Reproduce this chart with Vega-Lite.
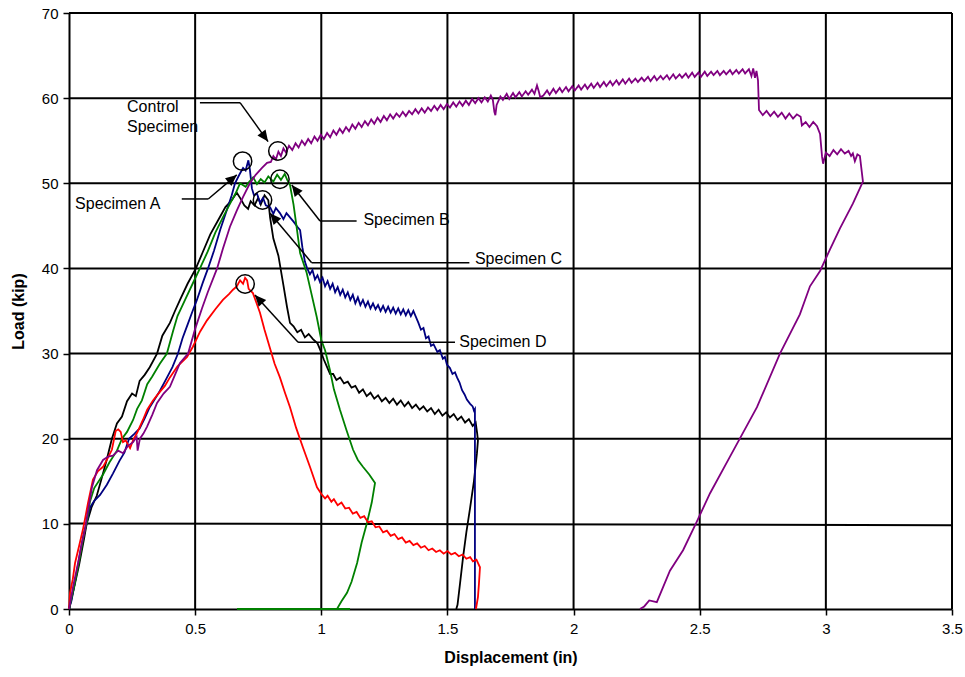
{
  "$schema": "https://vega.github.io/schema/vega-lite/v6.json",
  "width": 883,
  "height": 596,
  "autosize": {"type": "none"},
  "padding": {"left": 69, "top": 13, "right": 13, "bottom": 68},
  "background": "white",
  "config": {
    "view": {"stroke": null},
    "font": "Liberation Sans",
    "axis": {
      "labelFont": "Liberation Sans",
      "titleFont": "Liberation Sans",
      "labelColor": "#000000",
      "titleColor": "#000000",
      "domainColor": "#000000",
      "tickColor": "#000000",
      "domainWidth": 2,
      "tickWidth": 1.5,
      "tickSize": 6,
      "grid": false,
      "labelFontSize": 15,
      "titleFontSize": 16,
      "titleFontWeight": "bold"
    }
  },
  "layer": [
    {
      "data": {"values": [{"x": 0.5}, {"x": 1}, {"x": 1.5}, {"x": 2}, {"x": 2.5}, {"x": 3}, {"x": 3.5}]},
      "mark": {"type": "rule", "color": "#000000", "strokeWidth": 2},
      "encoding": {
        "x": {"field": "x", "type": "quantitative", "scale": {"domain": [0, 3.5], "nice": false, "zero": false},
              "title": "Displacement (in)",
              "axis": {"values": [0, 0.5, 1, 1.5, 2, 2.5, 3, 3.5], "format": "~g", "labelPadding": 6, "titlePadding": 13, "labelFlush": false}}
      }
    },
    {
      "data": {"values": [{"y": 20}, {"y": 30}, {"y": 40}, {"y": 50}, {"y": 60}, {"y": 70}]},
      "mark": {"type": "rule", "color": "#000000", "strokeWidth": 2},
      "encoding": {
        "y": {"field": "y", "type": "quantitative", "scale": {"domain": [0, 70], "nice": false},
              "title": "Load (kip)",
              "axis": {"values": [0, 10, 20, 30, 40, 50, 60, 70], "labelPadding": 5, "titlePadding": 15, "labelFlush": false}}
      }
    },
    {
      "data": {"values": [{"x": 0, "y": 10.05, "x2": 3.5, "y2": 9.85}]},
      "mark": {"type": "rule", "color": "#000000", "strokeWidth": 2},
      "encoding": {
        "x": {"field": "x", "type": "quantitative", "title": "Displacement (in)"},
        "y": {"field": "y", "type": "quantitative", "title": "Load (kip)"},
        "x2": {"field": "x2"},
        "y2": {"field": "y2"}
      }
    },
    {
      "data": {"values": [
        {"s": "Specimen C", "x": 0, "y": 0}, {"s": "Specimen C", "x": 0.02, "y": 2.5}, {"s": "Specimen C", "x": 0.04, "y": 5.2}, {"s": "Specimen C", "x": 0.06, "y": 8.3}, {"s": "Specimen C", "x": 0.07, "y": 10.0}, {"s": "Specimen C", "x": 0.09, "y": 12.0}, {"s": "Specimen C", "x": 0.11, "y": 13.3}, {"s": "Specimen C", "x": 0.13, "y": 15.4}, {"s": "Specimen C", "x": 0.15, "y": 17.6}, {"s": "Specimen C", "x": 0.17, "y": 20.0}, {"s": "Specimen C", "x": 0.19, "y": 21.8}, {"s": "Specimen C", "x": 0.21, "y": 22.6}, {"s": "Specimen C", "x": 0.23, "y": 24.4}, {"s": "Specimen C", "x": 0.25, "y": 25.3}, {"s": "Specimen C", "x": 0.265, "y": 25.0}, {"s": "Specimen C", "x": 0.28, "y": 26.8}, {"s": "Specimen C", "x": 0.30, "y": 27.5}, {"s": "Specimen C", "x": 0.32, "y": 28.4}, {"s": "Specimen C", "x": 0.349, "y": 30.0}, {"s": "Specimen C", "x": 0.37, "y": 32.1}, {"s": "Specimen C", "x": 0.40, "y": 33.6}, {"s": "Specimen C", "x": 0.42, "y": 35.0}, {"s": "Specimen C", "x": 0.44, "y": 36.3}, {"s": "Specimen C", "x": 0.47, "y": 38.2}, {"s": "Specimen C", "x": 0.503, "y": 40.0}, {"s": "Specimen C", "x": 0.53, "y": 41.9}, {"s": "Specimen C", "x": 0.56, "y": 44.0}, {"s": "Specimen C", "x": 0.59, "y": 45.6}, {"s": "Specimen C", "x": 0.62, "y": 47.2}, {"s": "Specimen C", "x": 0.645, "y": 48.0}, {"s": "Specimen C", "x": 0.665, "y": 48.9}, {"s": "Specimen C", "x": 0.68, "y": 48.2}, {"s": "Specimen C", "x": 0.695, "y": 47.4}, {"s": "Specimen C", "x": 0.71, "y": 47.0}, {"s": "Specimen C", "x": 0.72, "y": 47.9}, {"s": "Specimen C", "x": 0.735, "y": 47.4}, {"s": "Specimen C", "x": 0.75, "y": 48.3}, {"s": "Specimen C", "x": 0.76, "y": 47.5}, {"s": "Specimen C", "x": 0.775, "y": 48.6}, {"s": "Specimen C", "x": 0.79, "y": 48.0}, {"s": "Specimen C", "x": 0.797, "y": 46.0}, {"s": "Specimen C", "x": 0.81, "y": 43.5}, {"s": "Specimen C", "x": 0.83, "y": 41.5}, {"s": "Specimen C", "x": 0.85, "y": 38.0}, {"s": "Specimen C", "x": 0.864, "y": 35.5}, {"s": "Specimen C", "x": 0.876, "y": 33.6}, {"s": "Specimen C", "x": 0.89, "y": 33.2}, {"s": "Specimen C", "x": 0.905, "y": 32.5}, {"s": "Specimen C", "x": 0.92, "y": 32.8}, {"s": "Specimen C", "x": 0.935, "y": 31.9}, {"s": "Specimen C", "x": 0.95, "y": 32.3}, {"s": "Specimen C", "x": 0.967, "y": 31.7}, {"s": "Specimen C", "x": 0.985, "y": 31.2}, {"s": "Specimen C", "x": 0.995, "y": 30.5}, {"s": "Specimen C", "x": 1.01, "y": 29.3}, {"s": "Specimen C", "x": 1.023, "y": 28.4}, {"s": "Specimen C", "x": 1.035, "y": 27.6}, {"s": "Specimen C", "x": 1.047, "y": 27.6}, {"s": "Specimen C", "x": 1.06, "y": 26.9}, {"s": "Specimen C", "x": 1.075, "y": 27.2}, {"s": "Specimen C", "x": 1.09, "y": 26.5}, {"s": "Specimen C", "x": 1.105, "y": 26.7}, {"s": "Specimen C", "x": 1.12, "y": 26.0}, {"s": "Specimen C", "x": 1.135, "y": 26.2}, {"s": "Specimen C", "x": 1.15, "y": 25.4}, {"s": "Specimen C", "x": 1.165, "y": 25.8}, {"s": "Specimen C", "x": 1.18, "y": 25.0}, {"s": "Specimen C", "x": 1.195, "y": 25.4}, {"s": "Specimen C", "x": 1.21, "y": 24.7}, {"s": "Specimen C", "x": 1.225, "y": 25.1}, {"s": "Specimen C", "x": 1.24, "y": 24.4}, {"s": "Specimen C", "x": 1.255, "y": 24.8}, {"s": "Specimen C", "x": 1.27, "y": 24.2}, {"s": "Specimen C", "x": 1.285, "y": 24.7}, {"s": "Specimen C", "x": 1.30, "y": 24.0}, {"s": "Specimen C", "x": 1.315, "y": 24.5}, {"s": "Specimen C", "x": 1.33, "y": 23.8}, {"s": "Specimen C", "x": 1.345, "y": 24.3}, {"s": "Specimen C", "x": 1.36, "y": 23.6}, {"s": "Specimen C", "x": 1.375, "y": 24.0}, {"s": "Specimen C", "x": 1.39, "y": 23.4}, {"s": "Specimen C", "x": 1.405, "y": 23.8}, {"s": "Specimen C", "x": 1.42, "y": 23.2}, {"s": "Specimen C", "x": 1.435, "y": 23.6}, {"s": "Specimen C", "x": 1.45, "y": 22.9}, {"s": "Specimen C", "x": 1.465, "y": 23.4}, {"s": "Specimen C", "x": 1.48, "y": 22.7}, {"s": "Specimen C", "x": 1.495, "y": 23.1}, {"s": "Specimen C", "x": 1.51, "y": 22.5}, {"s": "Specimen C", "x": 1.525, "y": 22.9}, {"s": "Specimen C", "x": 1.54, "y": 22.2}, {"s": "Specimen C", "x": 1.555, "y": 22.6}, {"s": "Specimen C", "x": 1.57, "y": 21.9}, {"s": "Specimen C", "x": 1.585, "y": 22.3}, {"s": "Specimen C", "x": 1.60, "y": 21.5}, {"s": "Specimen C", "x": 1.612, "y": 21.9}, {"s": "Specimen C", "x": 1.618, "y": 20.6}, {"s": "Specimen C", "x": 1.621, "y": 19.8}, {"s": "Specimen C", "x": 1.617, "y": 18.3}, {"s": "Specimen C", "x": 1.605, "y": 15.0}, {"s": "Specimen C", "x": 1.59, "y": 11.9}, {"s": "Specimen C", "x": 1.575, "y": 9.0}, {"s": "Specimen C", "x": 1.562, "y": 6.1}, {"s": "Specimen C", "x": 1.55, "y": 3.0}, {"s": "Specimen C", "x": 1.54, "y": 0.5}, {"s": "Specimen C", "x": 1.535, "y": 0},

        {"s": "Specimen A", "x": 0, "y": 0}, {"s": "Specimen A", "x": 0.01, "y": 1.0}, {"s": "Specimen A", "x": 0.02, "y": 2.6}, {"s": "Specimen A", "x": 0.03, "y": 4.2}, {"s": "Specimen A", "x": 0.044, "y": 6.6}, {"s": "Specimen A", "x": 0.06, "y": 9.0}, {"s": "Specimen A", "x": 0.07, "y": 10.0}, {"s": "Specimen A", "x": 0.083, "y": 11.9}, {"s": "Specimen A", "x": 0.1, "y": 12.7}, {"s": "Specimen A", "x": 0.123, "y": 13.4}, {"s": "Specimen A", "x": 0.15, "y": 14.6}, {"s": "Specimen A", "x": 0.174, "y": 15.9}, {"s": "Specimen A", "x": 0.2, "y": 17.4}, {"s": "Specimen A", "x": 0.22, "y": 18.4}, {"s": "Specimen A", "x": 0.238, "y": 20.0}, {"s": "Specimen A", "x": 0.26, "y": 20.6}, {"s": "Specimen A", "x": 0.28, "y": 21.2}, {"s": "Specimen A", "x": 0.30, "y": 22.4}, {"s": "Specimen A", "x": 0.32, "y": 23.7}, {"s": "Specimen A", "x": 0.341, "y": 24.7}, {"s": "Specimen A", "x": 0.36, "y": 25.6}, {"s": "Specimen A", "x": 0.385, "y": 27.0}, {"s": "Specimen A", "x": 0.41, "y": 28.4}, {"s": "Specimen A", "x": 0.432, "y": 30.0}, {"s": "Specimen A", "x": 0.45, "y": 31.8}, {"s": "Specimen A", "x": 0.47, "y": 33.4}, {"s": "Specimen A", "x": 0.49, "y": 35.0}, {"s": "Specimen A", "x": 0.507, "y": 36.3}, {"s": "Specimen A", "x": 0.53, "y": 38.3}, {"s": "Specimen A", "x": 0.551, "y": 40.0}, {"s": "Specimen A", "x": 0.575, "y": 42.1}, {"s": "Specimen A", "x": 0.60, "y": 44.6}, {"s": "Specimen A", "x": 0.625, "y": 46.8}, {"s": "Specimen A", "x": 0.645, "y": 48.6}, {"s": "Specimen A", "x": 0.658, "y": 50.0}, {"s": "Specimen A", "x": 0.675, "y": 51.0}, {"s": "Specimen A", "x": 0.69, "y": 51.8}, {"s": "Specimen A", "x": 0.70, "y": 51.5}, {"s": "Specimen A", "x": 0.711, "y": 52.7}, {"s": "Specimen A", "x": 0.717, "y": 51.6}, {"s": "Specimen A", "x": 0.725, "y": 49.4}, {"s": "Specimen A", "x": 0.733, "y": 48.6}, {"s": "Specimen A", "x": 0.745, "y": 48.8}, {"s": "Specimen A", "x": 0.757, "y": 47.7}, {"s": "Specimen A", "x": 0.769, "y": 48.3}, {"s": "Specimen A", "x": 0.78, "y": 47.4}, {"s": "Specimen A", "x": 0.797, "y": 47.2}, {"s": "Specimen A", "x": 0.81, "y": 46.4}, {"s": "Specimen A", "x": 0.82, "y": 47.1}, {"s": "Specimen A", "x": 0.836, "y": 46.5}, {"s": "Specimen A", "x": 0.85, "y": 45.8}, {"s": "Specimen A", "x": 0.862, "y": 46.5}, {"s": "Specimen A", "x": 0.876, "y": 46.0}, {"s": "Specimen A", "x": 0.89, "y": 45.5}, {"s": "Specimen A", "x": 0.905, "y": 44.9}, {"s": "Specimen A", "x": 0.916, "y": 44.5}, {"s": "Specimen A", "x": 0.925, "y": 42.5}, {"s": "Specimen A", "x": 0.935, "y": 40.8}, {"s": "Specimen A", "x": 0.943, "y": 40.1}, {"s": "Specimen A", "x": 0.955, "y": 39.3}, {"s": "Specimen A", "x": 0.965, "y": 39.8}, {"s": "Specimen A", "x": 0.975, "y": 38.7}, {"s": "Specimen A", "x": 0.985, "y": 39.2}, {"s": "Specimen A", "x": 0.995, "y": 38.4}, {"s": "Specimen A", "x": 1.005, "y": 38.9}, {"s": "Specimen A", "x": 1.015, "y": 37.9}, {"s": "Specimen A", "x": 1.025, "y": 38.5}, {"s": "Specimen A", "x": 1.035, "y": 37.6}, {"s": "Specimen A", "x": 1.045, "y": 38.2}, {"s": "Specimen A", "x": 1.055, "y": 37.2}, {"s": "Specimen A", "x": 1.065, "y": 37.8}, {"s": "Specimen A", "x": 1.075, "y": 36.9}, {"s": "Specimen A", "x": 1.085, "y": 37.5}, {"s": "Specimen A", "x": 1.095, "y": 36.6}, {"s": "Specimen A", "x": 1.105, "y": 37.2}, {"s": "Specimen A", "x": 1.115, "y": 36.3}, {"s": "Specimen A", "x": 1.125, "y": 36.9}, {"s": "Specimen A", "x": 1.135, "y": 35.9}, {"s": "Specimen A", "x": 1.145, "y": 36.6}, {"s": "Specimen A", "x": 1.155, "y": 35.7}, {"s": "Specimen A", "x": 1.165, "y": 36.3}, {"s": "Specimen A", "x": 1.175, "y": 35.5}, {"s": "Specimen A", "x": 1.185, "y": 36.1}, {"s": "Specimen A", "x": 1.195, "y": 35.3}, {"s": "Specimen A", "x": 1.205, "y": 35.9}, {"s": "Specimen A", "x": 1.215, "y": 35.2}, {"s": "Specimen A", "x": 1.225, "y": 35.7}, {"s": "Specimen A", "x": 1.235, "y": 35.0}, {"s": "Specimen A", "x": 1.245, "y": 35.6}, {"s": "Specimen A", "x": 1.255, "y": 34.9}, {"s": "Specimen A", "x": 1.265, "y": 35.5}, {"s": "Specimen A", "x": 1.275, "y": 34.8}, {"s": "Specimen A", "x": 1.285, "y": 35.4}, {"s": "Specimen A", "x": 1.295, "y": 34.7}, {"s": "Specimen A", "x": 1.305, "y": 35.3}, {"s": "Specimen A", "x": 1.315, "y": 34.6}, {"s": "Specimen A", "x": 1.325, "y": 35.2}, {"s": "Specimen A", "x": 1.335, "y": 34.5}, {"s": "Specimen A", "x": 1.345, "y": 35.1}, {"s": "Specimen A", "x": 1.355, "y": 34.4}, {"s": "Specimen A", "x": 1.365, "y": 35.0}, {"s": "Specimen A", "x": 1.375, "y": 34.3}, {"s": "Specimen A", "x": 1.385, "y": 33.6}, {"s": "Specimen A", "x": 1.395, "y": 32.8}, {"s": "Specimen A", "x": 1.405, "y": 33.0}, {"s": "Specimen A", "x": 1.415, "y": 31.8}, {"s": "Specimen A", "x": 1.425, "y": 32.0}, {"s": "Specimen A", "x": 1.435, "y": 30.9}, {"s": "Specimen A", "x": 1.445, "y": 31.1}, {"s": "Specimen A", "x": 1.46, "y": 30.2}, {"s": "Specimen A", "x": 1.47, "y": 30.4}, {"s": "Specimen A", "x": 1.482, "y": 29.4}, {"s": "Specimen A", "x": 1.49, "y": 29.6}, {"s": "Specimen A", "x": 1.498, "y": 28.7}, {"s": "Specimen A", "x": 1.51, "y": 28.3}, {"s": "Specimen A", "x": 1.52, "y": 27.6}, {"s": "Specimen A", "x": 1.53, "y": 27.8}, {"s": "Specimen A", "x": 1.538, "y": 27.2}, {"s": "Specimen A", "x": 1.548, "y": 26.6}, {"s": "Specimen A", "x": 1.558, "y": 25.7}, {"s": "Specimen A", "x": 1.568, "y": 25.2}, {"s": "Specimen A", "x": 1.577, "y": 24.6}, {"s": "Specimen A", "x": 1.59, "y": 24.1}, {"s": "Specimen A", "x": 1.60, "y": 23.8}, {"s": "Specimen A", "x": 1.605, "y": 23.3}, {"s": "Specimen A", "x": 1.609, "y": 23.5}, {"s": "Specimen A", "x": 1.609, "y": 0},

        {"s": "Specimen B", "x": 0, "y": 0}, {"s": "Specimen B", "x": 0.02, "y": 2.6}, {"s": "Specimen B", "x": 0.04, "y": 5.6}, {"s": "Specimen B", "x": 0.06, "y": 8.9}, {"s": "Specimen B", "x": 0.07, "y": 10.1}, {"s": "Specimen B", "x": 0.083, "y": 12.6}, {"s": "Specimen B", "x": 0.10, "y": 14.2}, {"s": "Specimen B", "x": 0.135, "y": 15.8}, {"s": "Specimen B", "x": 0.16, "y": 17.2}, {"s": "Specimen B", "x": 0.19, "y": 18.6}, {"s": "Specimen B", "x": 0.21, "y": 20.0}, {"s": "Specimen B", "x": 0.23, "y": 20.8}, {"s": "Specimen B", "x": 0.254, "y": 22.2}, {"s": "Specimen B", "x": 0.27, "y": 23.5}, {"s": "Specimen B", "x": 0.289, "y": 24.5}, {"s": "Specimen B", "x": 0.31, "y": 26.4}, {"s": "Specimen B", "x": 0.33, "y": 27.3}, {"s": "Specimen B", "x": 0.36, "y": 28.8}, {"s": "Specimen B", "x": 0.388, "y": 30.0}, {"s": "Specimen B", "x": 0.412, "y": 32.6}, {"s": "Specimen B", "x": 0.43, "y": 34.4}, {"s": "Specimen B", "x": 0.46, "y": 36.3}, {"s": "Specimen B", "x": 0.49, "y": 38.2}, {"s": "Specimen B", "x": 0.519, "y": 40.0}, {"s": "Specimen B", "x": 0.55, "y": 42.0}, {"s": "Specimen B", "x": 0.58, "y": 44.2}, {"s": "Specimen B", "x": 0.61, "y": 46.0}, {"s": "Specimen B", "x": 0.64, "y": 47.7}, {"s": "Specimen B", "x": 0.66, "y": 48.8}, {"s": "Specimen B", "x": 0.678, "y": 50.0}, {"s": "Specimen B", "x": 0.70, "y": 49.6}, {"s": "Specimen B", "x": 0.715, "y": 50.2}, {"s": "Specimen B", "x": 0.73, "y": 50.7}, {"s": "Specimen B", "x": 0.745, "y": 49.9}, {"s": "Specimen B", "x": 0.76, "y": 50.5}, {"s": "Specimen B", "x": 0.775, "y": 50.1}, {"s": "Specimen B", "x": 0.79, "y": 50.8}, {"s": "Specimen B", "x": 0.81, "y": 50.2}, {"s": "Specimen B", "x": 0.825, "y": 51.0}, {"s": "Specimen B", "x": 0.84, "y": 50.4}, {"s": "Specimen B", "x": 0.855, "y": 51.1}, {"s": "Specimen B", "x": 0.865, "y": 50.4}, {"s": "Specimen B", "x": 0.876, "y": 49.8}, {"s": "Specimen B", "x": 0.89, "y": 47.5}, {"s": "Specimen B", "x": 0.902, "y": 44.9}, {"s": "Specimen B", "x": 0.916, "y": 41.8}, {"s": "Specimen B", "x": 0.942, "y": 39.5}, {"s": "Specimen B", "x": 0.955, "y": 37.8}, {"s": "Specimen B", "x": 0.982, "y": 34.3}, {"s": "Specimen B", "x": 1.0, "y": 31.6}, {"s": "Specimen B", "x": 1.015, "y": 30.4}, {"s": "Specimen B", "x": 1.034, "y": 28.1}, {"s": "Specimen B", "x": 1.05, "y": 25.8}, {"s": "Specimen B", "x": 1.074, "y": 23.4}, {"s": "Specimen B", "x": 1.10, "y": 21.0}, {"s": "Specimen B", "x": 1.126, "y": 18.7}, {"s": "Specimen B", "x": 1.145, "y": 17.5}, {"s": "Specimen B", "x": 1.165, "y": 16.7}, {"s": "Specimen B", "x": 1.19, "y": 15.8}, {"s": "Specimen B", "x": 1.213, "y": 14.8}, {"s": "Specimen B", "x": 1.20, "y": 12.5}, {"s": "Specimen B", "x": 1.181, "y": 10.1}, {"s": "Specimen B", "x": 1.16, "y": 7.8}, {"s": "Specimen B", "x": 1.142, "y": 5.4}, {"s": "Specimen B", "x": 1.12, "y": 3.2}, {"s": "Specimen B", "x": 1.102, "y": 1.9}, {"s": "Specimen B", "x": 1.08, "y": 0.9}, {"s": "Specimen B", "x": 1.062, "y": 0}, {"s": "Specimen B", "x": 1.114, "y": 0}, {"s": "Specimen B", "x": 0.666, "y": 0},

        {"s": "Specimen D", "x": 0, "y": 0}, {"s": "Specimen D", "x": 0.004, "y": 1.9}, {"s": "Specimen D", "x": 0.015, "y": 3.5}, {"s": "Specimen D", "x": 0.024, "y": 5.4}, {"s": "Specimen D", "x": 0.04, "y": 7.4}, {"s": "Specimen D", "x": 0.055, "y": 9.3}, {"s": "Specimen D", "x": 0.065, "y": 10.8}, {"s": "Specimen D", "x": 0.075, "y": 12.4}, {"s": "Specimen D", "x": 0.095, "y": 15.2}, {"s": "Specimen D", "x": 0.115, "y": 16.2}, {"s": "Specimen D", "x": 0.135, "y": 16.7}, {"s": "Specimen D", "x": 0.155, "y": 17.8}, {"s": "Specimen D", "x": 0.17, "y": 18.7}, {"s": "Specimen D", "x": 0.185, "y": 20.9}, {"s": "Specimen D", "x": 0.195, "y": 21.1}, {"s": "Specimen D", "x": 0.205, "y": 20.8}, {"s": "Specimen D", "x": 0.214, "y": 19.6}, {"s": "Specimen D", "x": 0.225, "y": 19.8}, {"s": "Specimen D", "x": 0.234, "y": 19.3}, {"s": "Specimen D", "x": 0.242, "y": 18.9}, {"s": "Specimen D", "x": 0.255, "y": 19.9}, {"s": "Specimen D", "x": 0.27, "y": 20.7}, {"s": "Specimen D", "x": 0.293, "y": 22.2}, {"s": "Specimen D", "x": 0.31, "y": 23.4}, {"s": "Specimen D", "x": 0.333, "y": 24.5}, {"s": "Specimen D", "x": 0.36, "y": 25.5}, {"s": "Specimen D", "x": 0.38, "y": 26.2}, {"s": "Specimen D", "x": 0.40, "y": 27.2}, {"s": "Specimen D", "x": 0.43, "y": 28.5}, {"s": "Specimen D", "x": 0.468, "y": 29.6}, {"s": "Specimen D", "x": 0.491, "y": 30.8}, {"s": "Specimen D", "x": 0.52, "y": 32.6}, {"s": "Specimen D", "x": 0.547, "y": 33.9}, {"s": "Specimen D", "x": 0.58, "y": 35.2}, {"s": "Specimen D", "x": 0.61, "y": 36.3}, {"s": "Specimen D", "x": 0.635, "y": 37.0}, {"s": "Specimen D", "x": 0.65, "y": 37.5}, {"s": "Specimen D", "x": 0.665, "y": 37.9}, {"s": "Specimen D", "x": 0.678, "y": 38.6}, {"s": "Specimen D", "x": 0.69, "y": 38.2}, {"s": "Specimen D", "x": 0.698, "y": 38.9}, {"s": "Specimen D", "x": 0.706, "y": 38.6}, {"s": "Specimen D", "x": 0.712, "y": 37.6}, {"s": "Specimen D", "x": 0.729, "y": 37.1}, {"s": "Specimen D", "x": 0.74, "y": 36.2}, {"s": "Specimen D", "x": 0.757, "y": 34.8}, {"s": "Specimen D", "x": 0.775, "y": 32.8}, {"s": "Specimen D", "x": 0.797, "y": 30.6}, {"s": "Specimen D", "x": 0.815, "y": 28.8}, {"s": "Specimen D", "x": 0.836, "y": 27.2}, {"s": "Specimen D", "x": 0.856, "y": 25.4}, {"s": "Specimen D", "x": 0.876, "y": 23.7}, {"s": "Specimen D", "x": 0.90, "y": 21.3}, {"s": "Specimen D", "x": 0.927, "y": 19.0}, {"s": "Specimen D", "x": 0.955, "y": 16.7}, {"s": "Specimen D", "x": 0.983, "y": 14.3}, {"s": "Specimen D", "x": 1.003, "y": 13.4}, {"s": "Specimen D", "x": 1.015, "y": 13.0}, {"s": "Specimen D", "x": 1.025, "y": 13.3}, {"s": "Specimen D", "x": 1.04, "y": 12.6}, {"s": "Specimen D", "x": 1.05, "y": 12.9}, {"s": "Specimen D", "x": 1.065, "y": 12.2}, {"s": "Specimen D", "x": 1.08, "y": 12.5}, {"s": "Specimen D", "x": 1.095, "y": 11.8}, {"s": "Specimen D", "x": 1.11, "y": 11.9}, {"s": "Specimen D", "x": 1.125, "y": 11.2}, {"s": "Specimen D", "x": 1.14, "y": 11.4}, {"s": "Specimen D", "x": 1.155, "y": 10.7}, {"s": "Specimen D", "x": 1.17, "y": 10.9}, {"s": "Specimen D", "x": 1.185, "y": 10.2}, {"s": "Specimen D", "x": 1.20, "y": 10.3}, {"s": "Specimen D", "x": 1.215, "y": 9.6}, {"s": "Specimen D", "x": 1.23, "y": 9.7}, {"s": "Specimen D", "x": 1.245, "y": 9.0}, {"s": "Specimen D", "x": 1.26, "y": 9.2}, {"s": "Specimen D", "x": 1.275, "y": 8.6}, {"s": "Specimen D", "x": 1.29, "y": 8.8}, {"s": "Specimen D", "x": 1.305, "y": 8.2}, {"s": "Specimen D", "x": 1.32, "y": 8.4}, {"s": "Specimen D", "x": 1.335, "y": 7.8}, {"s": "Specimen D", "x": 1.35, "y": 8.0}, {"s": "Specimen D", "x": 1.365, "y": 7.5}, {"s": "Specimen D", "x": 1.38, "y": 7.7}, {"s": "Specimen D", "x": 1.395, "y": 7.2}, {"s": "Specimen D", "x": 1.41, "y": 7.4}, {"s": "Specimen D", "x": 1.425, "y": 6.9}, {"s": "Specimen D", "x": 1.44, "y": 7.1}, {"s": "Specimen D", "x": 1.455, "y": 6.7}, {"s": "Specimen D", "x": 1.47, "y": 6.9}, {"s": "Specimen D", "x": 1.485, "y": 6.5}, {"s": "Specimen D", "x": 1.50, "y": 6.8}, {"s": "Specimen D", "x": 1.515, "y": 6.4}, {"s": "Specimen D", "x": 1.53, "y": 6.6}, {"s": "Specimen D", "x": 1.545, "y": 6.2}, {"s": "Specimen D", "x": 1.56, "y": 6.4}, {"s": "Specimen D", "x": 1.575, "y": 5.9}, {"s": "Specimen D", "x": 1.59, "y": 6.1}, {"s": "Specimen D", "x": 1.601, "y": 5.6}, {"s": "Specimen D", "x": 1.615, "y": 5.8}, {"s": "Specimen D", "x": 1.629, "y": 4.9}, {"s": "Specimen D", "x": 1.625, "y": 3.0}, {"s": "Specimen D", "x": 1.621, "y": 1.4}, {"s": "Specimen D", "x": 1.613, "y": 0},

        {"s": "Control Specimen", "x": 0, "y": 0}, {"s": "Control Specimen", "x": 0.016, "y": 2.6}, {"s": "Control Specimen", "x": 0.036, "y": 5.4}, {"s": "Control Specimen", "x": 0.05, "y": 7.6}, {"s": "Control Specimen", "x": 0.063, "y": 9.3}, {"s": "Control Specimen", "x": 0.075, "y": 11.5}, {"s": "Control Specimen", "x": 0.091, "y": 14.3}, {"s": "Control Specimen", "x": 0.111, "y": 16.3}, {"s": "Control Specimen", "x": 0.135, "y": 17.5}, {"s": "Control Specimen", "x": 0.155, "y": 17.9}, {"s": "Control Specimen", "x": 0.174, "y": 18.0}, {"s": "Control Specimen", "x": 0.195, "y": 18.6}, {"s": "Control Specimen", "x": 0.214, "y": 18.3}, {"s": "Control Specimen", "x": 0.235, "y": 19.2}, {"s": "Control Specimen", "x": 0.254, "y": 19.6}, {"s": "Control Specimen", "x": 0.268, "y": 20.2}, {"s": "Control Specimen", "x": 0.272, "y": 18.6}, {"s": "Control Specimen", "x": 0.281, "y": 20.0}, {"s": "Control Specimen", "x": 0.295, "y": 20.6}, {"s": "Control Specimen", "x": 0.309, "y": 21.4}, {"s": "Control Specimen", "x": 0.33, "y": 22.8}, {"s": "Control Specimen", "x": 0.349, "y": 24.2}, {"s": "Control Specimen", "x": 0.375, "y": 25.3}, {"s": "Control Specimen", "x": 0.40, "y": 26.1}, {"s": "Control Specimen", "x": 0.42, "y": 27.5}, {"s": "Control Specimen", "x": 0.44, "y": 28.9}, {"s": "Control Specimen", "x": 0.472, "y": 30.0}, {"s": "Control Specimen", "x": 0.50, "y": 32.9}, {"s": "Control Specimen", "x": 0.527, "y": 35.3}, {"s": "Control Specimen", "x": 0.55, "y": 37.2}, {"s": "Control Specimen", "x": 0.587, "y": 40.0}, {"s": "Control Specimen", "x": 0.61, "y": 42.3}, {"s": "Control Specimen", "x": 0.638, "y": 44.9}, {"s": "Control Specimen", "x": 0.665, "y": 46.8}, {"s": "Control Specimen", "x": 0.69, "y": 48.4}, {"s": "Control Specimen", "x": 0.717, "y": 50.0}, {"s": "Control Specimen", "x": 0.74, "y": 51.0}, {"s": "Control Specimen", "x": 0.765, "y": 51.8}, {"s": "Control Specimen", "x": 0.785, "y": 52.4}, {"s": "Control Specimen", "x": 0.80, "y": 52.5}, {"s": "Control Specimen", "x": 0.81, "y": 53.2}, {"s": "Control Specimen", "x": 0.82, "y": 52.8}, {"s": "Control Specimen", "x": 0.83, "y": 53.7}, {"s": "Control Specimen", "x": 0.84, "y": 53.2}, {"s": "Control Specimen", "x": 0.85, "y": 54.1}, {"s": "Control Specimen", "x": 0.86, "y": 53.6}, {"s": "Control Specimen", "x": 0.872, "y": 54.4}, {"s": "Control Specimen", "x": 0.885, "y": 53.9}, {"s": "Control Specimen", "x": 0.898, "y": 54.7}, {"s": "Control Specimen", "x": 0.91, "y": 54.2}, {"s": "Control Specimen", "x": 0.923, "y": 55.0}, {"s": "Control Specimen", "x": 0.935, "y": 54.5}, {"s": "Control Specimen", "x": 0.948, "y": 55.2}, {"s": "Control Specimen", "x": 0.96, "y": 54.7}, {"s": "Control Specimen", "x": 0.973, "y": 55.5}, {"s": "Control Specimen", "x": 0.985, "y": 55.0}, {"s": "Control Specimen", "x": 0.998, "y": 55.7}, {"s": "Control Specimen", "x": 1.01, "y": 55.2}, {"s": "Control Specimen", "x": 1.023, "y": 55.9}, {"s": "Control Specimen", "x": 1.035, "y": 55.4}, {"s": "Control Specimen", "x": 1.048, "y": 56.2}, {"s": "Control Specimen", "x": 1.06, "y": 55.7}, {"s": "Control Specimen", "x": 1.073, "y": 56.4}, {"s": "Control Specimen", "x": 1.085, "y": 55.9}, {"s": "Control Specimen", "x": 1.098, "y": 56.6}, {"s": "Control Specimen", "x": 1.11, "y": 56.1}, {"s": "Control Specimen", "x": 1.123, "y": 56.9}, {"s": "Control Specimen", "x": 1.135, "y": 56.4}, {"s": "Control Specimen", "x": 1.148, "y": 57.1}, {"s": "Control Specimen", "x": 1.16, "y": 56.6}, {"s": "Control Specimen", "x": 1.173, "y": 57.3}, {"s": "Control Specimen", "x": 1.185, "y": 56.8}, {"s": "Control Specimen", "x": 1.198, "y": 57.5}, {"s": "Control Specimen", "x": 1.21, "y": 57.0}, {"s": "Control Specimen", "x": 1.223, "y": 57.7}, {"s": "Control Specimen", "x": 1.235, "y": 57.2}, {"s": "Control Specimen", "x": 1.248, "y": 57.9}, {"s": "Control Specimen", "x": 1.26, "y": 57.4}, {"s": "Control Specimen", "x": 1.273, "y": 58.1}, {"s": "Control Specimen", "x": 1.285, "y": 57.6}, {"s": "Control Specimen", "x": 1.298, "y": 58.2}, {"s": "Control Specimen", "x": 1.31, "y": 57.8}, {"s": "Control Specimen", "x": 1.323, "y": 58.4}, {"s": "Control Specimen", "x": 1.335, "y": 57.9}, {"s": "Control Specimen", "x": 1.348, "y": 58.5}, {"s": "Control Specimen", "x": 1.36, "y": 58.1}, {"s": "Control Specimen", "x": 1.373, "y": 58.7}, {"s": "Control Specimen", "x": 1.385, "y": 58.2}, {"s": "Control Specimen", "x": 1.398, "y": 58.8}, {"s": "Control Specimen", "x": 1.41, "y": 58.3}, {"s": "Control Specimen", "x": 1.423, "y": 58.9}, {"s": "Control Specimen", "x": 1.435, "y": 58.5}, {"s": "Control Specimen", "x": 1.448, "y": 59.1}, {"s": "Control Specimen", "x": 1.46, "y": 58.6}, {"s": "Control Specimen", "x": 1.473, "y": 59.2}, {"s": "Control Specimen", "x": 1.485, "y": 58.7}, {"s": "Control Specimen", "x": 1.498, "y": 59.3}, {"s": "Control Specimen", "x": 1.51, "y": 58.9}, {"s": "Control Specimen", "x": 1.523, "y": 59.5}, {"s": "Control Specimen", "x": 1.535, "y": 59.0}, {"s": "Control Specimen", "x": 1.548, "y": 59.6}, {"s": "Control Specimen", "x": 1.56, "y": 59.1}, {"s": "Control Specimen", "x": 1.573, "y": 59.7}, {"s": "Control Specimen", "x": 1.585, "y": 59.2}, {"s": "Control Specimen", "x": 1.598, "y": 59.9}, {"s": "Control Specimen", "x": 1.61, "y": 59.4}, {"s": "Control Specimen", "x": 1.623, "y": 60.0}, {"s": "Control Specimen", "x": 1.635, "y": 59.5}, {"s": "Control Specimen", "x": 1.648, "y": 60.1}, {"s": "Control Specimen", "x": 1.66, "y": 59.6}, {"s": "Control Specimen", "x": 1.672, "y": 60.3}, {"s": "Control Specimen", "x": 1.68, "y": 59.8}, {"s": "Control Specimen", "x": 1.686, "y": 58.4}, {"s": "Control Specimen", "x": 1.69, "y": 58.0}, {"s": "Control Specimen", "x": 1.695, "y": 59.2}, {"s": "Control Specimen", "x": 1.71, "y": 60.2}, {"s": "Control Specimen", "x": 1.72, "y": 59.8}, {"s": "Control Specimen", "x": 1.735, "y": 60.5}, {"s": "Control Specimen", "x": 1.745, "y": 59.9}, {"s": "Control Specimen", "x": 1.76, "y": 60.6}, {"s": "Control Specimen", "x": 1.77, "y": 60.1}, {"s": "Control Specimen", "x": 1.785, "y": 60.7}, {"s": "Control Specimen", "x": 1.795, "y": 60.2}, {"s": "Control Specimen", "x": 1.81, "y": 60.8}, {"s": "Control Specimen", "x": 1.82, "y": 60.4}, {"s": "Control Specimen", "x": 1.835, "y": 61.0}, {"s": "Control Specimen", "x": 1.845, "y": 60.5}, {"s": "Control Specimen", "x": 1.855, "y": 61.5}, {"s": "Control Specimen", "x": 1.862, "y": 60.8}, {"s": "Control Specimen", "x": 1.868, "y": 60.1}, {"s": "Control Specimen", "x": 1.88, "y": 60.3}, {"s": "Control Specimen", "x": 1.895, "y": 60.9}, {"s": "Control Specimen", "x": 1.905, "y": 60.4}, {"s": "Control Specimen", "x": 1.92, "y": 61.1}, {"s": "Control Specimen", "x": 1.93, "y": 60.6}, {"s": "Control Specimen", "x": 1.945, "y": 61.2}, {"s": "Control Specimen", "x": 1.955, "y": 60.7}, {"s": "Control Specimen", "x": 1.97, "y": 61.3}, {"s": "Control Specimen", "x": 1.98, "y": 60.8}, {"s": "Control Specimen", "x": 1.995, "y": 61.4}, {"s": "Control Specimen", "x": 2.005, "y": 60.9}, {"s": "Control Specimen", "x": 2.02, "y": 61.5}, {"s": "Control Specimen", "x": 2.03, "y": 61.0}, {"s": "Control Specimen", "x": 2.045, "y": 61.6}, {"s": "Control Specimen", "x": 2.055, "y": 61.1}, {"s": "Control Specimen", "x": 2.07, "y": 61.7}, {"s": "Control Specimen", "x": 2.08, "y": 61.2}, {"s": "Control Specimen", "x": 2.095, "y": 61.8}, {"s": "Control Specimen", "x": 2.105, "y": 61.3}, {"s": "Control Specimen", "x": 2.12, "y": 61.9}, {"s": "Control Specimen", "x": 2.13, "y": 61.4}, {"s": "Control Specimen", "x": 2.145, "y": 62.0}, {"s": "Control Specimen", "x": 2.155, "y": 61.5}, {"s": "Control Specimen", "x": 2.17, "y": 62.1}, {"s": "Control Specimen", "x": 2.18, "y": 61.6}, {"s": "Control Specimen", "x": 2.195, "y": 62.2}, {"s": "Control Specimen", "x": 2.205, "y": 61.7}, {"s": "Control Specimen", "x": 2.22, "y": 62.3}, {"s": "Control Specimen", "x": 2.23, "y": 61.8}, {"s": "Control Specimen", "x": 2.245, "y": 62.3}, {"s": "Control Specimen", "x": 2.255, "y": 61.9}, {"s": "Control Specimen", "x": 2.27, "y": 62.4}, {"s": "Control Specimen", "x": 2.28, "y": 62.0}, {"s": "Control Specimen", "x": 2.295, "y": 62.5}, {"s": "Control Specimen", "x": 2.305, "y": 62.0}, {"s": "Control Specimen", "x": 2.32, "y": 62.6}, {"s": "Control Specimen", "x": 2.33, "y": 62.1}, {"s": "Control Specimen", "x": 2.345, "y": 62.6}, {"s": "Control Specimen", "x": 2.355, "y": 62.2}, {"s": "Control Specimen", "x": 2.37, "y": 62.7}, {"s": "Control Specimen", "x": 2.38, "y": 62.2}, {"s": "Control Specimen", "x": 2.395, "y": 62.8}, {"s": "Control Specimen", "x": 2.405, "y": 62.3}, {"s": "Control Specimen", "x": 2.42, "y": 62.8}, {"s": "Control Specimen", "x": 2.43, "y": 62.4}, {"s": "Control Specimen", "x": 2.445, "y": 62.9}, {"s": "Control Specimen", "x": 2.455, "y": 62.4}, {"s": "Control Specimen", "x": 2.47, "y": 63.0}, {"s": "Control Specimen", "x": 2.48, "y": 62.5}, {"s": "Control Specimen", "x": 2.495, "y": 63.0}, {"s": "Control Specimen", "x": 2.505, "y": 62.5}, {"s": "Control Specimen", "x": 2.52, "y": 63.1}, {"s": "Control Specimen", "x": 2.53, "y": 62.6}, {"s": "Control Specimen", "x": 2.545, "y": 63.1}, {"s": "Control Specimen", "x": 2.555, "y": 62.7}, {"s": "Control Specimen", "x": 2.57, "y": 63.2}, {"s": "Control Specimen", "x": 2.58, "y": 62.7}, {"s": "Control Specimen", "x": 2.595, "y": 63.2}, {"s": "Control Specimen", "x": 2.605, "y": 62.8}, {"s": "Control Specimen", "x": 2.62, "y": 63.3}, {"s": "Control Specimen", "x": 2.63, "y": 62.8}, {"s": "Control Specimen", "x": 2.645, "y": 63.3}, {"s": "Control Specimen", "x": 2.655, "y": 62.9}, {"s": "Control Specimen", "x": 2.67, "y": 63.4}, {"s": "Control Specimen", "x": 2.68, "y": 62.9}, {"s": "Control Specimen", "x": 2.695, "y": 63.4}, {"s": "Control Specimen", "x": 2.705, "y": 62.6}, {"s": "Control Specimen", "x": 2.712, "y": 63.5}, {"s": "Control Specimen", "x": 2.719, "y": 62.4}, {"s": "Control Specimen", "x": 2.725, "y": 63.2}, {"s": "Control Specimen", "x": 2.731, "y": 62.1}, {"s": "Control Specimen", "x": 2.735, "y": 58.6}, {"s": "Control Specimen", "x": 2.75, "y": 58.0}, {"s": "Control Specimen", "x": 2.765, "y": 58.5}, {"s": "Control Specimen", "x": 2.78, "y": 57.9}, {"s": "Control Specimen", "x": 2.795, "y": 58.4}, {"s": "Control Specimen", "x": 2.81, "y": 57.8}, {"s": "Control Specimen", "x": 2.825, "y": 58.3}, {"s": "Control Specimen", "x": 2.84, "y": 57.6}, {"s": "Control Specimen", "x": 2.855, "y": 58.2}, {"s": "Control Specimen", "x": 2.87, "y": 57.6}, {"s": "Control Specimen", "x": 2.885, "y": 58.1}, {"s": "Control Specimen", "x": 2.90, "y": 57.8}, {"s": "Control Specimen", "x": 2.905, "y": 56.8}, {"s": "Control Specimen", "x": 2.92, "y": 57.2}, {"s": "Control Specimen", "x": 2.935, "y": 56.6}, {"s": "Control Specimen", "x": 2.95, "y": 57.2}, {"s": "Control Specimen", "x": 2.965, "y": 56.7}, {"s": "Control Specimen", "x": 2.977, "y": 55.8}, {"s": "Control Specimen", "x": 2.985, "y": 53.1}, {"s": "Control Specimen", "x": 2.989, "y": 52.3}, {"s": "Control Specimen", "x": 3.0, "y": 53.6}, {"s": "Control Specimen", "x": 3.015, "y": 53.2}, {"s": "Control Specimen", "x": 3.03, "y": 53.9}, {"s": "Control Specimen", "x": 3.045, "y": 53.4}, {"s": "Control Specimen", "x": 3.06, "y": 54.0}, {"s": "Control Specimen", "x": 3.075, "y": 53.5}, {"s": "Control Specimen", "x": 3.09, "y": 53.8}, {"s": "Control Specimen", "x": 3.10, "y": 53.2}, {"s": "Control Specimen", "x": 3.107, "y": 53.5}, {"s": "Control Specimen", "x": 3.115, "y": 52.6}, {"s": "Control Specimen", "x": 3.125, "y": 53.4}, {"s": "Control Specimen", "x": 3.135, "y": 53.2}, {"s": "Control Specimen", "x": 3.143, "y": 51.2}, {"s": "Control Specimen", "x": 3.147, "y": 50.2}, {"s": "Control Specimen", "x": 3.127, "y": 48.9}, {"s": "Control Specimen", "x": 3.107, "y": 47.6}, {"s": "Control Specimen", "x": 3.056, "y": 44.7}, {"s": "Control Specimen", "x": 3.016, "y": 42.2}, {"s": "Control Specimen", "x": 2.977, "y": 39.7}, {"s": "Control Specimen", "x": 2.937, "y": 37.9}, {"s": "Control Specimen", "x": 2.897, "y": 34.6}, {"s": "Control Specimen", "x": 2.818, "y": 30.0}, {"s": "Control Specimen", "x": 2.727, "y": 23.7}, {"s": "Control Specimen", "x": 2.62, "y": 17.9}, {"s": "Control Specimen", "x": 2.541, "y": 13.6}, {"s": "Control Specimen", "x": 2.489, "y": 10.3}, {"s": "Control Specimen", "x": 2.434, "y": 6.9}, {"s": "Control Specimen", "x": 2.382, "y": 4.5}, {"s": "Control Specimen", "x": 2.33, "y": 0.8}, {"s": "Control Specimen", "x": 2.30, "y": 1.0}, {"s": "Control Specimen", "x": 2.28, "y": 0.3}, {"s": "Control Specimen", "x": 2.263, "y": 0}
      ]},
      "transform": [{"window": [{"op": "row_number", "as": "i"}]}],
      "mark": {"type": "line", "strokeWidth": 1.8, "interpolate": "linear"},
      "encoding": {
        "x": {"field": "x", "type": "quantitative", "title": "Displacement (in)"},
        "y": {"field": "y", "type": "quantitative", "title": "Load (kip)"},
        "order": {"field": "i", "type": "quantitative"},
        "color": {"field": "s", "type": "nominal", "legend": null,
                  "scale": {"domain": ["Control Specimen", "Specimen A", "Specimen B", "Specimen C", "Specimen D"],
                            "range": ["#800080", "#000080", "#008000", "#000000", "#ff0000"]}}
      }
    },
    {
      "data": {"values": [
        {"x": 0.519, "y": 59.47, "x2": 0.678, "y2": 59.47},
        {"x": 0.678, "y": 59.47, "x2": 0.789, "y2": 54.9},
        {"x": 0.447, "y": 48.16, "x2": 0.552, "y2": 48.16},
        {"x": 0.552, "y": 48.16, "x2": 0.665, "y2": 50.98},
        {"x": 1.14, "y": 45.57, "x2": 0.995, "y2": 45.57},
        {"x": 0.995, "y": 45.57, "x2": 0.883, "y2": 49.8},
        {"x": 1.587, "y": 40.67, "x2": 0.962, "y2": 40.67},
        {"x": 0.962, "y": 40.67, "x2": 0.797, "y2": 46.48},
        {"x": 1.53, "y": 31.32, "x2": 0.908, "y2": 31.32},
        {"x": 0.908, "y": 31.32, "x2": 0.737, "y2": 36.88}
      ]},
      "mark": {"type": "rule", "color": "#000000", "strokeWidth": 1.5},
      "encoding": {
        "x": {"field": "x", "type": "quantitative", "title": "Displacement (in)"},
        "y": {"field": "y", "type": "quantitative", "title": "Load (kip)"},
        "x2": {"field": "x2"},
        "y2": {"field": "y2"}
      }
    },
    {
      "data": {"values": [
        {"x": 0.789, "y": 54.9, "a": 144},
        {"x": 0.665, "y": 50.98, "a": 50},
        {"x": 0.883, "y": 49.8, "a": 322},
        {"x": 0.797, "y": 46.48, "a": 319},
        {"x": 0.737, "y": 36.88, "a": 318}
      ]},
      "mark": {"type": "point", "shape": "M0,0L0.45,1L-0.45,1Z", "filled": true, "color": "#000000", "size": 500, "opacity": 1},
      "encoding": {
        "x": {"field": "x", "type": "quantitative", "title": "Displacement (in)"},
        "y": {"field": "y", "type": "quantitative", "title": "Load (kip)"},
        "angle": {"field": "a", "type": "quantitative", "scale": null}
      }
    },
    {
      "data": {"values": [
        {"x": 0.828, "y": 53.8},
        {"x": 0.688, "y": 52.6},
        {"x": 0.836, "y": 50.47},
        {"x": 0.767, "y": 48.04},
        {"x": 0.698, "y": 38.17}
      ]},
      "mark": {"type": "point", "shape": "circle", "filled": false, "color": "#000000", "strokeWidth": 1.5, "size": 340, "opacity": 1},
      "encoding": {
        "x": {"field": "x", "type": "quantitative", "title": "Displacement (in)"},
        "y": {"field": "y", "type": "quantitative", "title": "Load (kip)"}
      }
    },
    {
      "data": {"values": [
        {"x": 0.23, "y": 59.0, "t": "Control"},
        {"x": 0.23, "y": 56.65, "t": "Specimen"},
        {"x": 0.024, "y": 47.57, "t": "Specimen A"},
        {"x": 1.167, "y": 45.69, "t": "Specimen B"},
        {"x": 1.609, "y": 41.1, "t": "Specimen C"},
        {"x": 1.547, "y": 31.4, "t": "Specimen D"}
      ]},
      "mark": {"type": "text", "align": "left", "baseline": "middle", "font": "Liberation Sans", "fontSize": 16, "color": "#000000"},
      "encoding": {
        "x": {"field": "x", "type": "quantitative", "title": "Displacement (in)"},
        "y": {"field": "y", "type": "quantitative", "title": "Load (kip)"},
        "text": {"field": "t"}
      }
    }
  ]
}
